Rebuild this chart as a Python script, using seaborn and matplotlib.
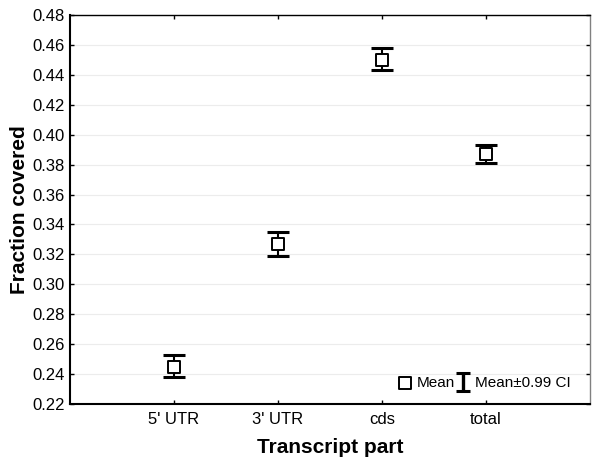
import matplotlib

matplotlib.use("Agg")
import matplotlib.pyplot as plt
import numpy as np
import pandas as pd
import seaborn as sns
from matplotlib.collections import LineCollection
from matplotlib.container import ErrorbarContainer
from matplotlib.legend_handler import HandlerErrorbar
from matplotlib.lines import Line2D

parts = ["5' UTR", "3' UTR", "cds", "total"]
means = [0.245, 0.327, 0.450, 0.387]
ci_low = [0.238, 0.319, 0.443, 0.381]
ci_high = [0.253, 0.335, 0.458, 0.393]
y_ticks = [0.22, 0.24, 0.26, 0.28, 0.30, 0.32, 0.34, 0.36, 0.38, 0.40, 0.42, 0.44, 0.46, 0.48]


class SmallCapHandler(HandlerErrorbar):
    """Legend key for the CI with narrower caps than the plotted ones."""

    def create_artists(self, *args, **kwargs):
        artists = super().create_artists(*args, **kwargs)
        for a in artists:
            if isinstance(a, Line2D) and a.get_marker() == "_":
                a.set_markersize(10)
            elif isinstance(a, LineCollection):
                a.set_linewidth(2.4)
        return artists


sns.set_theme(style="white")
plt.rcParams["font.family"] = ["Liberation Sans", "DejaVu Sans"]
plt.rcParams["text.color"] = "black"
plt.rcParams["axes.labelcolor"] = "black"

df = pd.DataFrame({"part": parts, "mean": means, "lo": ci_low, "hi": ci_high})
df["pos"] = np.arange(1, len(parts) + 1)

fig = plt.figure(figsize=(6, 4.74), dpi=100)
ax = fig.add_axes([0.1167, 0.1477, 0.8666, 0.8207])

err = [df["mean"] - df["lo"], df["hi"] - df["mean"]]
ax.errorbar(df["pos"], df["mean"], yerr=err, fmt="none", ecolor="black",
            elinewidth=1.5, capsize=8, capthick=2.2, label="Mean±0.99 CI", zorder=2)
sns.scatterplot(data=df, x="pos", y="mean", marker="s", s=70, color="white",
                edgecolor="black", linewidth=1.4, label="Mean", ax=ax, zorder=3)

ax.set_xlim(0, len(parts) + 1)
ax.set_ylim(y_ticks[0], y_ticks[-1])
ax.set_xticks(df["pos"])
ax.set_xticklabels(parts)
ax.set_yticks(y_ticks)
ax.set_yticklabels([f"{t:.2f}" for t in y_ticks])
ax.yaxis.grid(True, color="#ececec", linewidth=0.8)
ax.set_axisbelow(True)

ax.set_xlabel("Transcript part", fontsize=15, fontweight="bold", labelpad=8)
ax.set_ylabel("Fraction covered", fontsize=15, fontweight="bold", labelpad=2)

ax.tick_params(axis="both", direction="in", length=3, width=1, labelsize=12,
               colors="black", left=True, bottom=True, right=True, top=True, pad=4)
ax.tick_params(axis="x", pad=6)
for side in ["left", "bottom", "top"]:
    ax.spines[side].set_color("black")
    ax.spines[side].set_linewidth(1.5)
ax.spines["top"].set_linewidth(1.0)
ax.spines["right"].set_color("#808080")
ax.spines["right"].set_linewidth(1.0)

handles, labels = ax.get_legend_handles_labels()
order = [labels.index("Mean"), labels.index("Mean±0.99 CI")]
ax.legend([handles[i] for i in order], [labels[i] for i in order], ncol=2,
          loc="lower right", bbox_to_anchor=(0.99, 0.0), frameon=False,
          fontsize=11, handlelength=0.8, handletextpad=0.4, columnspacing=0.1,
          handler_map={ErrorbarContainer: SmallCapHandler(yerr_size=0.6)})

fig.savefig("out.png", dpi=100)
plt.close(fig)
